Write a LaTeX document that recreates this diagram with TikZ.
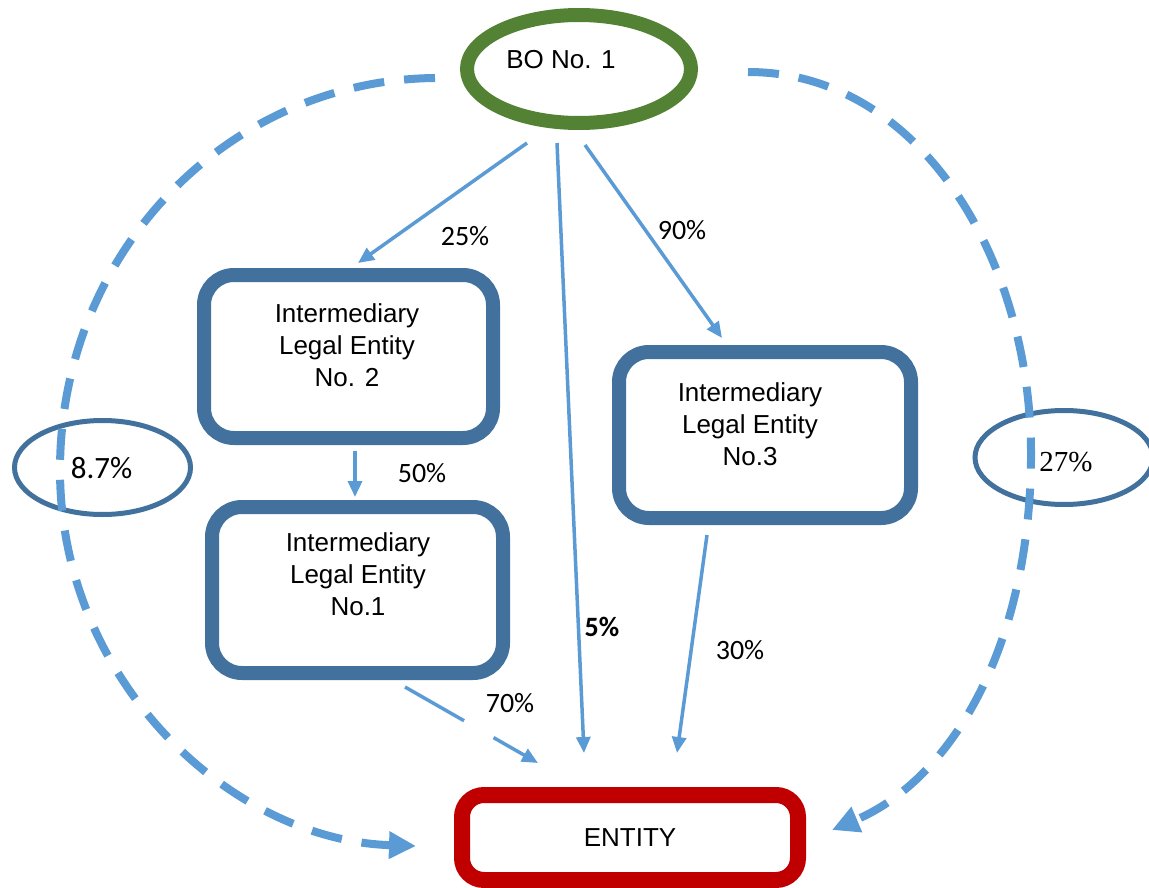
\documentclass[tikz,border=0pt]{standalone}
\usepackage{fontspec}
\setmainfont{Liberation Sans}
\newfontfamily\calib{Carlito}
\newfontfamily\tnr{Liberation Serif}
\usetikzlibrary{arrows.meta,shapes.geometric}
\definecolor{boxblue}{RGB}{65,113,156}
\definecolor{lineblue}{RGB}{91,155,213}
\definecolor{bogreen}{RGB}{84,130,53}
\definecolor{entred}{RGB}{192,0,0}
\begin{document}
\begin{tikzpicture}[x=1pt,y=-1pt,
  box/.style={draw=boxblue,line width=14pt,rounded corners=30pt,minimum width=289pt,minimum height=163pt,inner sep=0pt},
  txt/.style={align=center,font=\fontsize{26}{32}\selectfont},
  pct/.style={font=\calib\fontsize{28}{30}\selectfont},
  oval/.style={ellipse,draw=boxblue,line width=5pt,minimum width=176pt,minimum height=94pt,inner sep=0pt},
  link/.style={draw=lineblue,line width=3.5pt,-{Triangle[length=16pt,width=14pt]}},
  arc/.style={draw=lineblue,line width=8pt,dash pattern=on 31pt off 20pt,-{Triangle[length=27pt,width=26pt]}}]
\useasboundingbox (0,0) rectangle (1149,888);

% nodes
\node[ellipse,draw=bogreen,line width=14pt,minimum width=224pt,minimum height=108pt,inner sep=0pt] (BO) at (579,69) {};
\node[font=\fontsize{26}{30}\selectfont] (BOtxt) at (561,60) {BO No. 1};

\node[box] (B2) at (348.5,356.5) {};
\node[txt] (B2txt) at (347,345) {Intermediary\\Legal Entity\\No. 2};

\node[box,minimum width=291pt,minimum height=166pt] (B1) at (357.5,590) {};
\node[txt] (B1txt) at (358,574) {Intermediary\\Legal Entity\\No.1};

\node[box,minimum width=292pt,minimum height=166pt] (B3) at (765,435) {};
\node[txt] (B3txt) at (750,424) {Intermediary\\Legal Entity\\No.3};

\node[draw=entred,line width=16pt,rounded corners=22pt,minimum width=336pt,minimum height=85pt,inner sep=0pt,font=\fontsize{26}{30}\selectfont] (ENT) at (630,837.5) {ENTITY};

\node[oval] (O87) at (102.5,467.5) {};
\node[font=\calib\fontsize{31}{32}\selectfont] (O87txt) at (101.5,468) {8.7\%};
\node[oval,minimum width=178pt] (O27) at (1064,457.5) {};
\node[font=\tnr\fontsize{29}{30}\selectfont] (O27txt) at (1066,462) {27\%};

% connector end points
\coordinate (s25) at (527,143); \coordinate (e25) at (358,263);
\coordinate (s5) at (557,143);  \coordinate (e5) at (584,753);
\coordinate (s90) at (585,145); \coordinate (e90) at (722,338);
\coordinate (s50) at (355,451); \coordinate (e50) at (355,497);
\coordinate (s70) at (405,687); \coordinate (e70) at (538,763);
\coordinate (s30) at (707,535); \coordinate (e30) at (677,753);
\coordinate (aLs) at (435,78);  \coordinate (aLe) at (416,846);
\coordinate (aRs) at (748,72);  \coordinate (aRe) at (832,830);
\coordinate (aLm) at (60,470);  \coordinate (aRm) at (1031,460);

% dashed arcs
\draw[arc] (aLs) .. controls (230,80) and (60,250) .. (aLm) .. controls (60,680) and (230,840) .. (aLe);
\draw[arc] (aRs) .. controls (920,72) and (1033,260) .. (aRm) .. controls (1029,650) and (950,780) .. (aRe);

% thin arrows
\draw[link] (s25) -- (e25);
\draw[link] (s5) -- (e5);
\draw[link] (s90) -- (e90);
\draw[link] (s50) -- (e50);
\draw[link,dash pattern=on 68pt off 34pt on 300pt] (s70) -- (e70);
\draw[link] (s30) -- (e30);

% labels
\node[pct] (l25) at (465,236) {25\%};
\node[pct] (l90) at (682,230) {90\%};
\node[pct] (l50) at (422,473) {50\%};
\node[pct,font=\calib\bfseries\fontsize{28}{30}\selectfont] (l5) at (602,627) {5\%};
\node[pct] (l70) at (510,703) {70\%};
\node[pct] (l30) at (740,650) {30\%};
\end{tikzpicture}
\end{document}
